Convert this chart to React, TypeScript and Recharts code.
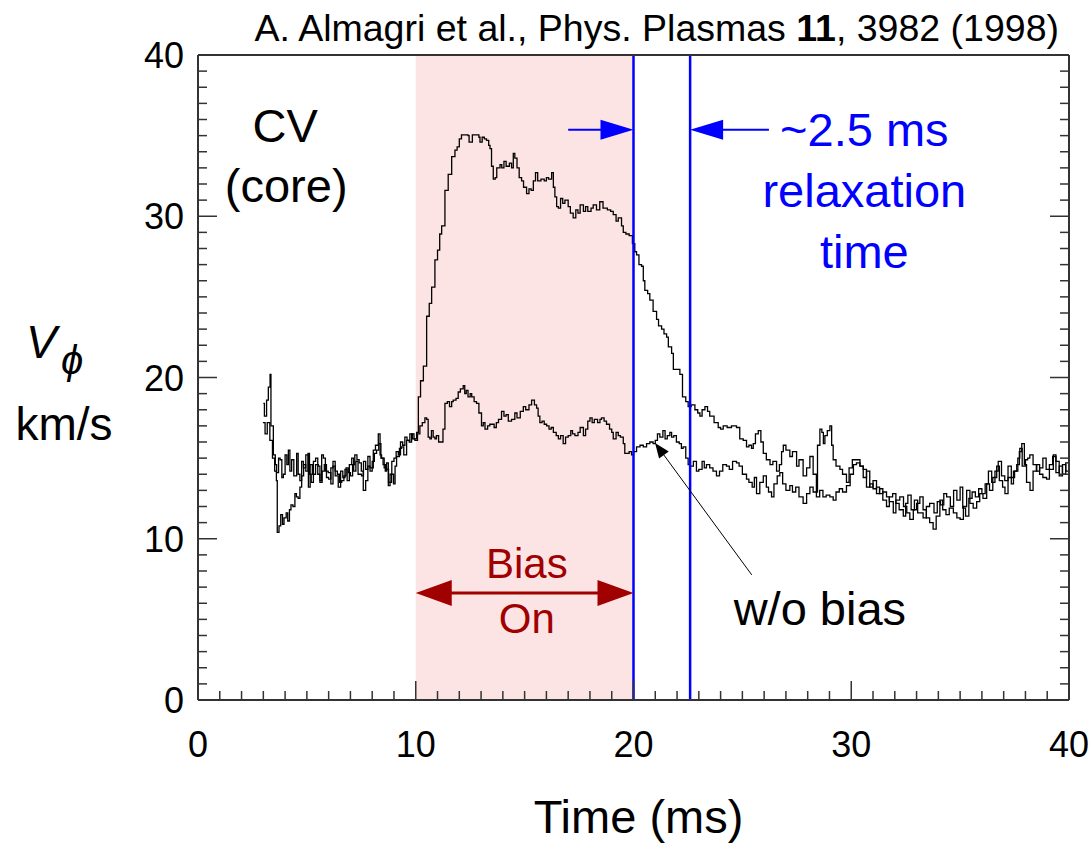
import React from 'react';
import { LineChart, Line, XAxis, YAxis, ReferenceArea, ReferenceLine, ReferenceDot } from 'recharts';

const FONT = '"Liberation Sans", Arial, Helvetica, sans-serif';

// ---- data ----
const biasTime = [
  3.0, 3.05, 3.15, 3.23, 3.31, 3.35, 3.46, 3.55, 3.61, 3.7, 3.77, 3.85, 3.92, 4.0, 4.08, 4.15, 4.22, 4.3, 4.4, 4.53,
  4.6, 4.68, 4.76, 4.84, 4.95, 5.07, 5.15, 5.25, 5.4, 5.53, 5.6, 5.68, 5.76, 5.85, 5.98, 6.1, 6.2, 6.3, 6.44, 6.55,
  6.65, 6.75, 6.85, 6.95, 7.06, 7.15, 7.25, 7.35, 7.51, 7.6, 7.7, 7.8, 7.9, 8.05, 8.15, 8.28, 8.36, 8.43, 8.55, 8.66,
  8.75, 8.89, 8.98, 9.05, 9.12, 9.25, 9.35, 9.45, 9.58, 9.7, 9.81, 9.92, 10.04, 10.12, 10.22, 10.35, 10.5, 10.62, 10.73, 10.88,
  11.0, 11.1, 11.19, 11.34, 11.49, 11.65, 11.8, 11.9, 12.0, 12.1, 12.3, 12.4, 12.45, 12.55, 12.6, 12.8, 12.9, 12.95, 13.05, 13.15,
  13.25, 13.35, 13.41, 13.48, 13.56, 13.65, 13.72, 13.87, 13.95, 14.05, 14.15, 14.3, 14.4, 14.48, 14.55, 14.65, 14.75, 14.86, 14.95, 15.09,
  15.2, 15.3, 15.4, 15.5, 15.6, 15.75, 15.9, 16.0, 16.1, 16.24, 16.32, 16.39, 16.47, 16.55, 16.65, 16.75, 16.85, 17.0, 17.1, 17.23,
  17.35, 17.45, 17.55, 17.7, 17.8, 17.9, 18.05, 18.15, 18.3, 18.45, 18.6, 18.8, 18.95, 19.07, 19.2, 19.3, 19.45, 19.53, 19.65, 19.8,
  19.95, 20.06, 20.14, 20.25, 20.37, 20.45, 20.52, 20.65, 20.75, 20.9, 21.06, 21.15, 21.29, 21.4, 21.52, 21.6, 21.75, 21.83, 21.95, 22.13,
  22.25, 22.4, 22.51, 22.65, 22.82, 22.95, 23.05, 23.15, 23.28, 23.4, 23.5, 23.7, 23.89, 24.0, 24.12, 24.3, 24.5, 24.73, 24.88, 25.04,
  25.19, 25.3, 25.42, 25.5, 25.6, 25.73, 25.85, 25.96, 26.1, 26.27, 26.4, 26.57, 26.7, 26.8, 26.88, 27.0, 27.18, 27.3, 27.49, 27.6,
  27.79, 27.95, 28.1, 28.25, 28.4, 28.45, 28.56, 28.65, 28.72, 28.79, 28.9, 29.02, 29.1, 29.17, 29.3, 29.48, 29.6, 29.78, 29.9, 30.05,
  30.24, 30.4, 30.55, 30.7, 30.85, 31.0, 31.16, 31.3, 31.45, 31.62, 31.75, 31.9, 32.05, 32.2, 32.39, 32.5, 32.6, 32.75, 32.9, 33.05,
  33.3, 33.45, 33.6, 33.8, 33.95, 34.1, 34.25, 34.38, 34.55, 34.7, 34.85, 35.0, 35.12, 35.25, 35.4, 35.55, 35.7, 35.85, 36.0, 36.15,
  36.3, 36.45, 36.6, 36.75, 36.9, 37.05, 37.2, 37.35, 37.5, 37.65, 37.74, 37.85, 38.0, 38.1, 38.2, 38.35, 38.5, 38.65, 38.8, 38.95,
  39.1, 39.25, 39.4, 39.55, 39.7, 39.85, 40.0,
];
const biasVel = [
  18.4, 17.6, 18.6, 19.4, 20.2, 17.0, 15.2, 14.6, 14.1, 15.0, 14.9, 13.8, 14.0, 15.2, 14.6, 15.5, 14.2, 14.9, 13.9, 15.3,
  14.0, 13.6, 14.8, 14.4, 15.2, 13.2, 14.6, 14.0, 14.6, 14.5, 13.6, 15.2, 15.0, 14.2, 14.1, 13.4, 14.5, 13.9, 13.2, 14.2,
  13.8, 14.3, 13.6, 14.6, 15.0, 14.2, 14.8, 14.0, 13.9, 14.8, 14.3, 15.1, 14.4, 15.5, 15.8, 16.5, 15.2, 15.0, 14.4, 14.3,
  13.5, 14.0, 13.4, 14.5, 15.1, 15.6, 15.7, 15.2, 16.1, 16.0, 16.5, 16.2, 16.6, 18.8, 19.8, 20.7, 23.8, 24.6, 25.6, 27.3,
  27.9, 28.9, 29.4, 31.6, 32.6, 33.7, 34.1, 34.3, 34.8, 35.05, 35.05, 35.0, 34.6, 34.6, 35.05, 35.05, 34.9, 34.6, 34.9, 34.8,
  34.7, 34.4, 34.2, 33.1, 32.3, 32.4, 33.0, 33.2, 33.0, 33.4, 33.1, 33.3, 33.0, 33.9, 33.6, 33.0, 32.4, 32.2, 31.8, 31.4,
  31.7, 31.6, 32.2, 32.7, 32.2, 32.3, 32.2, 32.4, 32.3, 32.7, 31.8, 31.2, 30.6, 30.5, 31.1, 30.8, 31.0, 30.6, 30.2, 29.9,
  30.4, 30.2, 30.7, 30.3, 30.6, 30.3, 30.5, 30.7, 30.4, 30.9, 30.5, 30.4, 30.3, 30.1, 29.7, 29.9, 29.4, 29.0, 28.9, 28.8,
  28.3, 27.8, 27.6, 27.0, 26.9, 26.0, 25.4, 25.2, 24.8, 24.1, 23.6, 23.2, 23.0, 22.7, 22.5, 21.9, 21.5, 20.5, 20.5, 20.2,
  18.8, 18.5, 18.2, 18.3, 18.0, 17.8, 17.6, 18.0, 18.2, 17.9, 17.6, 17.2, 16.9, 16.8, 17.0, 16.9, 17.0, 16.9, 16.2, 16.1,
  15.7, 15.8, 15.6, 15.9, 16.5, 16.7, 16.0, 15.3, 14.9, 14.6, 14.8, 14.2, 14.6, 15.4, 15.8, 15.5, 15.1, 15.4, 14.5, 14.9,
  13.9, 14.4, 15.1, 14.0, 12.9, 15.8, 16.8, 16.6, 15.9, 16.4, 16.7, 17.0, 15.8, 14.9, 14.5, 14.3, 14.0, 13.5, 14.4, 14.9,
  14.9, 14.5, 13.8, 14.2, 13.2, 13.6, 12.8, 13.1, 12.4, 12.0, 12.6, 12.8, 12.2, 11.8, 11.4, 12.2, 12.7, 11.8, 12.4, 11.6,
  11.3, 12.0, 12.2, 11.6, 12.3, 12.1, 12.8, 12.6, 12.0, 13.0, 12.4, 13.2, 11.9, 11.4, 12.5, 12.9, 12.6, 13.1, 12.8, 13.4,
  14.2, 13.5, 14.2, 14.8, 13.9, 13.6, 14.5, 13.8, 14.2, 15.0, 15.6, 14.5, 14.9, 15.0, 15.2, 14.6, 14.2, 14.4, 15.0, 14.3,
  14.6, 15.1, 14.1, 14.5, 14.0, 14.7, 14.6,
];
const noBiasTime = [
  2.98, 3.08, 3.18, 3.3, 3.42, 3.52, 3.6, 3.64, 3.72, 3.8, 3.88, 3.95, 4.05, 4.12, 4.2, 4.27, 4.36, 4.45, 4.52, 4.6,
  4.68, 4.76, 4.85, 4.95, 5.05, 5.12, 5.2, 5.3, 5.4, 5.5, 5.6, 5.7, 5.8, 5.9, 6.0, 6.1, 6.2, 6.3, 6.4, 6.5,
  6.6, 6.7, 6.8, 6.9, 7.0, 7.1, 7.2, 7.3, 7.4, 7.5, 7.59, 7.7, 7.8, 7.9, 8.0, 8.1, 8.2, 8.3, 8.4, 8.5,
  8.6, 8.66, 8.74, 8.82, 8.9, 9.0, 9.1, 9.2, 9.3, 9.4, 9.5, 9.6, 9.73, 9.85, 9.96, 10.08, 10.19, 10.3, 10.42, 10.5,
  10.57, 10.65, 10.72, 10.8, 10.88, 10.95, 11.05, 11.19, 11.25, 11.34, 11.45, 11.55, 11.65, 11.72, 11.85, 11.95, 12.05, 12.18, 12.25, 12.32,
  12.4, 12.5, 12.57, 12.68, 12.79, 12.9, 13.02, 13.1, 13.18, 13.3, 13.4, 13.48, 13.6, 13.7, 13.8, 13.94, 14.05, 14.15, 14.25, 14.4,
  14.55, 14.65, 14.8, 14.94, 15.05, 15.2, 15.32, 15.45, 15.55, 15.62, 15.7, 15.8, 15.9, 16.01, 16.12, 16.22, 16.32, 16.45, 16.55, 16.65,
  16.77, 16.88, 17.0, 17.12, 17.2, 17.31, 17.45, 17.55, 17.62, 17.7, 17.8, 17.9, 18.0, 18.1, 18.2, 18.35, 18.46, 18.53, 18.65, 18.76,
  18.9, 19.0, 19.07, 19.2, 19.3, 19.4, 19.53, 19.6, 19.68, 19.8, 19.91, 20.0, 20.14, 20.3, 20.45, 20.6, 20.75, 20.9, 21.0, 21.1,
  21.21, 21.35, 21.45, 21.55, 21.67, 21.75, 21.85, 21.97, 22.1, 22.2, 22.28, 22.4, 22.51, 22.6, 22.75, 22.89, 23.0, 23.15, 23.25, 23.35,
  23.5, 23.65, 23.81, 23.95, 24.1, 24.27, 24.4, 24.55, 24.73, 24.85, 25.0, 25.19, 25.3, 25.45, 25.55, 25.65, 25.8, 25.96, 26.1, 26.2,
  26.34, 26.45, 26.6, 26.72, 26.85, 27.0, 27.18, 27.3, 27.45, 27.6, 27.79, 27.95, 28.1, 28.25, 28.4, 28.55, 28.7, 28.85, 29.02, 29.17,
  29.3, 29.45, 29.6, 29.78, 29.95, 30.1, 30.24, 30.4, 30.55, 30.7, 30.85, 31.0, 31.16, 31.3, 31.45, 31.62, 31.75, 31.93, 32.05, 32.23,
  32.4, 32.55, 32.69, 32.85, 33.0, 33.15, 33.3, 33.45, 33.6, 33.76, 33.9, 34.07, 34.2, 34.35, 34.5, 34.69, 34.85, 35.0, 35.15, 35.3,
  35.45, 35.6, 35.76, 35.9, 36.05, 36.22, 36.35, 36.5, 36.68, 36.8, 36.95, 37.06, 37.2, 37.35, 37.45, 37.6, 37.72, 37.83, 37.95, 38.05,
  38.21, 38.35, 38.52, 38.65, 38.8, 38.97, 39.1, 39.28, 39.4, 39.55, 39.7, 39.85, 40.0,
];
const noBiasVel = [
  17.2, 16.5, 17.2, 16.1, 15.0, 14.2, 13.6, 10.4, 10.8, 11.5, 10.9, 11.3, 11.6, 11.1, 11.8, 12.1, 12.0, 12.8, 12.6, 12.5,
  13.2, 13.9, 14.6, 14.2, 15.3, 14.0, 13.5, 14.8, 15.0, 14.0, 13.5, 14.2, 14.6, 13.8, 13.7, 14.4, 14.8, 14.2, 14.0, 13.5,
  13.6, 13.9, 14.4, 14.1, 13.9, 14.6, 15.2, 14.9, 14.7, 14.2, 13.0, 13.6, 14.5, 14.2, 14.8, 15.3, 15.5, 15.9, 15.0, 14.6,
  14.2, 14.7, 13.3, 14.0, 14.8, 15.0, 15.4, 15.2, 16.0, 15.8, 16.3, 16.1, 16.5, 16.2, 16.1, 16.5, 17.0, 17.2, 17.5, 17.4,
  16.3, 16.2, 16.7, 16.3, 16.2, 16.4, 16.0, 16.0, 16.8, 18.4, 18.5, 18.2, 18.5, 18.6, 18.7, 19.1, 19.3, 19.5, 19.0, 19.2,
  18.8, 19.0, 18.8, 18.5, 18.4, 17.8, 17.0, 17.2, 16.8, 17.0, 17.1, 17.1, 16.9, 17.2, 17.4, 17.9, 17.6, 17.7, 17.3, 17.4,
  17.8, 17.5, 17.9, 18.2, 18.0, 18.3, 18.6, 18.3, 18.1, 17.6, 17.2, 17.3, 17.1, 17.0, 16.8, 16.9, 16.6, 16.4, 16.2, 16.4,
  15.9, 16.3, 16.4, 16.7, 16.5, 16.4, 16.6, 16.9, 16.9, 16.4, 16.8, 17.3, 17.5, 17.2, 17.4, 17.2, 17.4, 17.5, 17.3, 17.1,
  16.8, 16.6, 16.2, 16.6, 16.4, 16.3, 15.9, 15.3, 15.3, 15.4, 15.2, 15.4, 15.7, 15.8, 15.7, 15.9, 16.0, 15.9, 16.1, 16.5,
  16.3, 16.7, 16.2, 16.4, 16.6, 16.3, 16.4, 16.0, 15.9, 15.6, 15.7, 15.0, 14.6, 14.5, 14.8, 14.2, 14.3, 14.8, 14.4, 14.6,
  14.4, 14.2, 13.9, 14.2, 14.6, 14.5, 14.3, 14.8, 14.7, 14.5, 14.0, 13.7, 13.5, 13.2, 13.8, 12.8, 13.5, 13.9, 13.2, 12.9,
  12.6, 13.4, 13.9, 14.1, 13.4, 13.0, 13.3, 12.9, 13.2, 12.6, 12.2, 12.8, 13.2, 12.9, 12.6, 13.0, 12.6, 12.7, 12.6, 12.4,
  12.9, 13.1, 12.9, 13.3, 14.0, 14.6, 14.7, 14.5, 14.3, 13.2, 13.4, 13.1, 13.2, 12.8, 12.9, 12.6, 12.3, 11.6, 12.4, 12.6,
  12.0, 11.6, 11.2, 11.8, 12.2, 12.6, 11.8, 11.3, 11.0, 10.6, 11.4, 12.4, 11.8, 11.5, 11.9, 11.6, 11.3, 11.2, 12.0, 13.0,
  12.2, 11.9, 12.3, 12.8, 12.5, 13.4, 13.0, 13.8, 14.5, 13.6, 13.2, 12.8, 13.8, 13.4, 14.2, 14.6, 15.4, 15.9, 14.6, 13.5,
  13.0, 14.2, 14.6, 14.0, 13.8, 13.7, 14.3, 15.2, 14.8, 13.9, 14.6, 14.2, 14.4,
];

const X_TICKS = Array.from({ length: 41 }, (_, i) => i);
const Y_TICKS = Array.from({ length: 41 }, (_, i) => i);
const MAJOR_TICKS = [0, 10, 20, 30, 40];
const DOMAIN: [number, number] = [0, 40];

const BIAS_START = 10;
const BIAS_END = 20;
const RELAX_END = 22.6;

const biasData = biasTime.map((t, i) => ({ t, v: biasVel[i] }));
const noBiasData = noBiasTime.map((t, i) => ({ t, v: noBiasVel[i] }));

// ---- layout / styles ----
const W = 1092;
const H = 843;
const LEFT_W = 198;
const RIGHT_W = 23;
const TOP_H = 55;
const BOTTOM_H = 143;
const PLOT_LEFT = LEFT_W;
const PLOT_RIGHT = W - RIGHT_W;
const PLOT_TOP = TOP_H;
const PLOT_BOTTOM = H - BOTTOM_H;

const AXIS = '#333';
const BLUE = '#0000ff';
const DARKRED = '#a00000';
const PINK = '#fde4e4';
const MAJ = 19;
const MIN = 9;
const TICK_FS = 36;

const isMajor = (v: number) => MAJOR_TICKS.includes(v);

const BottomTick = (p: any) => {
  const { x, payload } = p;
  const v = payload.value;
  const m = isMajor(v);
  const y = PLOT_BOTTOM;
  return (
    <g>
      {v > 0 && v < 40 && <line x1={x} x2={x} y1={y} y2={y - (m ? MAJ : MIN)} stroke={AXIS} strokeWidth={1.5} />}
      {m && (
        <text x={x} y={y + 57} textAnchor="middle" fontSize={TICK_FS} fontFamily={FONT} fill="#000">
          {v}
        </text>
      )}
    </g>
  );
};
const TopTick = (p: any) => {
  const { x, payload } = p;
  const v = payload.value;
  const m = isMajor(v);
  if (v <= 0 || v >= 40) return <g />;
  const y = PLOT_TOP;
  return <line x1={x} x2={x} y1={y} y2={y + (m ? MAJ : MIN)} stroke={AXIS} strokeWidth={1.5} />;
};
const LeftTick = (p: any) => {
  const { y, payload } = p;
  const v = payload.value;
  const m = isMajor(v);
  const x = PLOT_LEFT;
  return (
    <g>
      {v > 0 && v < 40 && <line x1={x} x2={x + (m ? MAJ : MIN)} y1={y} y2={y} stroke={AXIS} strokeWidth={1.5} />}
      {m && (
        <text x={x - 14} y={y + 13} textAnchor="end" fontSize={TICK_FS} fontFamily={FONT} fill="#000">
          {v}
        </text>
      )}
    </g>
  );
};
const RightTick = (p: any) => {
  const { y, payload } = p;
  const v = payload.value;
  const m = isMajor(v);
  if (v <= 0 || v >= 40) return <g />;
  const x = PLOT_RIGHT;
  return <line x1={x} x2={x - (m ? MAJ : MIN)} y1={y} y2={y} stroke={AXIS} strokeWidth={1.5} />;
};

// arrow drawing for ReferenceLine segments
const arrowShape =
  (color: string, width: number, headLen: number, headHalf: number, both: boolean) =>
  (p: any) => {
    const { x1, y1, x2, y2 } = p;
    const dx = x2 - x1;
    const dy = y2 - y1;
    const L = Math.hypot(dx, dy) || 1;
    const ux = dx / L;
    const uy = dy / L;
    const nx = -uy;
    const ny = ux;
    const head = (tx: number, ty: number, dirx: number, diry: number) => {
      const bx = tx - dirx * headLen;
      const by = ty - diry * headLen;
      return `${tx},${ty} ${bx + nx * headHalf},${by + ny * headHalf} ${bx - nx * headHalf},${by - ny * headHalf}`;
    };
    const sx = both ? x1 + ux * headLen * 0.8 : x1;
    const sy = both ? y1 + uy * headLen * 0.8 : y1;
    const ex = x2 - ux * headLen * 0.8;
    const ey = y2 - uy * headLen * 0.8;
    return (
      <g>
        <line x1={sx} y1={sy} x2={ex} y2={ey} stroke={color} strokeWidth={width} />
        <polygon points={head(x2, y2, ux, uy)} fill={color} />
        {both && <polygon points={head(x1, y1, -ux, -uy)} fill={color} />}
      </g>
    );
  };

const textShape =
  (text: string, color: string, size: number) =>
  (p: any) => (
    <text x={p.cx} y={p.cy} textAnchor="middle" fontSize={size} fontFamily={FONT} fill={color}>
      {text}
    </text>
  );

const TitleLabel = () => (
  <text x={PLOT_RIGHT - 10} y={41} textAnchor="end" fontSize={37.5} fontFamily={FONT} fill="#000">
    A. Almagri et al., Phys. Plasmas <tspan fontWeight="bold">11</tspan>, 3982 (1998)
  </text>
);
const XLabel = () => (
  <text x={(PLOT_LEFT + PLOT_RIGHT) / 2 + 5} y={PLOT_BOTTOM + 133} textAnchor="middle" fontSize={47} fontFamily={FONT} fill="#000">
    Time (ms)
  </text>
);
const YLabel = () => (
  <g fontFamily={FONT} fill="#000">
    <text x={26} y={358} fontSize={46} fontStyle="italic">
      V
    </text>
    <text x={61} y={374} fontSize={40} fontStyle="italic">
      ϕ
    </text>
    <text x={64} y={440} fontSize={46} textAnchor="middle">
      km/s
    </text>
  </g>
);

export default function App() {
  return (
    <div style={{ position: 'absolute', left: 0, top: 0, background: '#fff' }}>
      <LineChart width={W} height={H} margin={{ top: 0, right: 0, bottom: 0, left: 0 }}>
        <XAxis
          xAxisId="bottom"
          dataKey="t"
          type="number"
          domain={DOMAIN}
          ticks={X_TICKS}
          interval={0}
          allowDataOverflow
          tickSize={0}
          tickMargin={0}
          tickLine={false}
          tick={BottomTick}
          axisLine={{ stroke: AXIS, strokeWidth: 2 }}
          height={BOTTOM_H}
          label={{ content: XLabel }}
        />
        <XAxis
          xAxisId="top"
          orientation="top"
          type="number"
          domain={DOMAIN}
          ticks={X_TICKS}
          interval={0}
          allowDataOverflow
          tickSize={0}
          tickMargin={0}
          tickLine={false}
          tick={TopTick}
          axisLine={{ stroke: AXIS, strokeWidth: 2 }}
          height={TOP_H}
          label={{ content: TitleLabel }}
        />
        <YAxis
          yAxisId="left"
          type="number"
          domain={DOMAIN}
          ticks={Y_TICKS}
          interval={0}
          allowDataOverflow
          tickSize={0}
          tickMargin={0}
          tickLine={false}
          tick={LeftTick}
          axisLine={{ stroke: AXIS, strokeWidth: 2 }}
          width={LEFT_W}
          label={{ content: YLabel }}
        />
        <YAxis
          yAxisId="right"
          orientation="right"
          type="number"
          domain={DOMAIN}
          ticks={Y_TICKS}
          interval={0}
          allowDataOverflow
          tickSize={0}
          tickMargin={0}
          tickLine={false}
          tick={RightTick}
          axisLine={{ stroke: AXIS, strokeWidth: 2 }}
          width={RIGHT_W}
        />
        <ReferenceArea
          xAxisId="bottom"
          yAxisId="left"
          x1={BIAS_START}
          x2={BIAS_END}
          y1={0}
          y2={40}
          fill={PINK}
          fillOpacity={1}
          stroke="none"
        />
        <Line
          data={noBiasData}
          dataKey="v"
          xAxisId="bottom"
          yAxisId="left"
          type="stepAfter"
          stroke="#000"
          strokeWidth={1.3}
          dot={false}
          isAnimationActive={false}
        />
        <Line
          data={biasData}
          dataKey="v"
          xAxisId="bottom"
          yAxisId="left"
          type="stepAfter"
          stroke="#000"
          strokeWidth={1.3}
          dot={false}
          isAnimationActive={false}
        />
        <ReferenceLine xAxisId="bottom" yAxisId="left" x={BIAS_END} stroke={BLUE} strokeWidth={2.5} />
        <ReferenceLine xAxisId="bottom" yAxisId="left" x={RELAX_END} stroke={BLUE} strokeWidth={2.5} />
        <ReferenceLine
          xAxisId="bottom"
          yAxisId="left"
          segment={[{ x: 17.0, y: 35.36 }, { x: BIAS_END, y: 35.36 }]}
          shape={arrowShape(BLUE, 2, 33, 10, false)}
        />
        <ReferenceLine
          xAxisId="bottom"
          yAxisId="left"
          segment={[{ x: 26.22, y: 35.36 }, { x: RELAX_END, y: 35.36 }]}
          shape={arrowShape(BLUE, 2, 33, 10, false)}
        />
        <ReferenceLine
          xAxisId="bottom"
          yAxisId="left"
          segment={[{ x: BIAS_START, y: 6.64 }, { x: BIAS_END, y: 6.64 }]}
          shape={arrowShape(DARKRED, 3, 36, 13, true)}
        />
        <ReferenceLine
          xAxisId="bottom"
          yAxisId="left"
          segment={[{ x: 25.43, y: 7.76 }, { x: 20.99, y: 15.94 }]}
          shape={arrowShape('#000', 1, 15, 6, false)}
        />
        <ReferenceDot xAxisId="bottom" yAxisId="left" x={4.0} y={34.6} r={0} shape={textShape('CV', '#000', 47)} />
        <ReferenceDot xAxisId="bottom" yAxisId="left" x={4.05} y={30.9} r={0} shape={textShape('(core)', '#000', 47)} />
        <ReferenceDot xAxisId="bottom" yAxisId="left" x={30.6} y={34.37} r={0} shape={textShape('~2.5 ms', BLUE, 47)} />
        <ReferenceDot xAxisId="bottom" yAxisId="left" x={30.6} y={30.58} r={0} shape={textShape('relaxation', BLUE, 47)} />
        <ReferenceDot xAxisId="bottom" yAxisId="left" x={30.6} y={26.8} r={0} shape={textShape('time', BLUE, 47)} />
        <ReferenceDot xAxisId="bottom" yAxisId="left" x={15.1} y={7.57} r={0} shape={textShape('Bias', DARKRED, 42)} />
        <ReferenceDot xAxisId="bottom" yAxisId="left" x={15.1} y={4.16} r={0} shape={textShape('On', DARKRED, 42)} />
        <ReferenceDot xAxisId="bottom" yAxisId="left" x={28.56} y={4.65} r={0} shape={textShape('w/o bias', '#000', 47)} />
      </LineChart>
    </div>
  );
}
